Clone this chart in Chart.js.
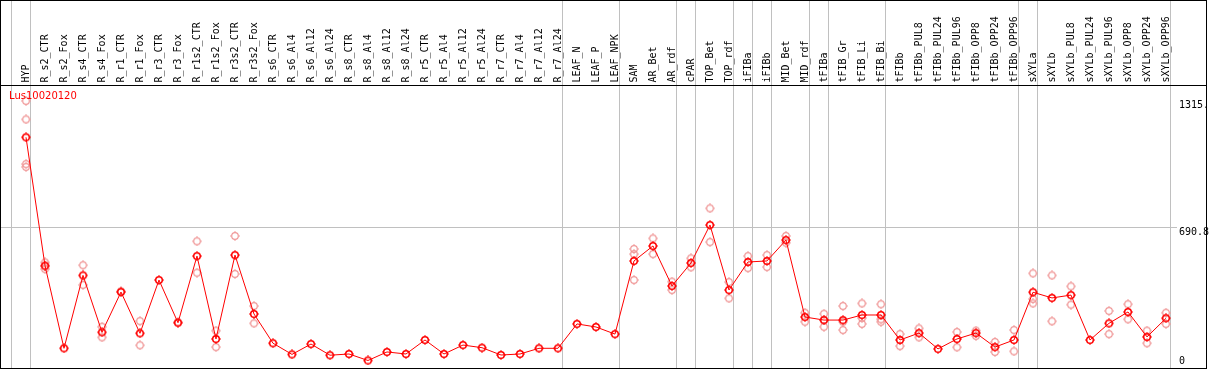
<!DOCTYPE html>
<html>
<head>
<meta charset="utf-8">
<script src="https://cdn.jsdelivr.net/npm/chart.js@4.4.0/dist/chart.umd.min.js"></script>
<style>
  html, body { margin: 0; padding: 0; background: #fff; }
  canvas { display: block; }
</style>
</head>
<body>
<canvas id="grafico" width="1209" height="370"></canvas>
<script>
// Muestras (eje x)
const categorias = ['HYP', 'R_s2_CTR', 'R_s2_Fox', 'R_s4_CTR', 'R_s4_Fox', 'R_r1_CTR', 'R_r1_Fox', 'R_r3_CTR', 'R_r3_Fox',
    'R_r1s2_CTR', 'R_r1s2_Fox', 'R_r3s2_CTR', 'R_r3s2_Fox', 'R_s6_CTR', 'R_s6_Al4', 'R_s6_Al12', 'R_s6_Al24',
    'R_s8_CTR', 'R_s8_Al4', 'R_s8_Al12', 'R_s8_Al24', 'R_r5_CTR', 'R_r5_Al4', 'R_r5_Al12', 'R_r5_Al24',
    'R_r7_CTR', 'R_r7_Al4', 'R_r7_Al12', 'R_r7_Al24', 'LEAF_N', 'LEAF_P', 'LEAF_NPK', 'SAM', 'AR_Bet', 'AR_rdf',
    'cPAR', 'TOP_Bet', 'TOP_rdf', 'iFIBa', 'iFIBb', 'MID_Bet', 'MID_rdf', 'tFIBa', 'tFIB_Gr', 'tFIB_Li', 'tFIB_Bi',
    'tFIBb', 'tFIBb_PUL8', 'tFIBb_PUL24', 'tFIBb_PUL96', 'tFIBb_OPP8', 'tFIBb_OPP24', 'tFIBb_OPP96',
    'sXYLa', 'sXYLb', 'sXYLb_PUL8', 'sXYLb_PUL24', 'sXYLb_PUL96', 'sXYLb_OPP8', 'sXYLb_OPP24', 'sXYLb_OPP96'];

// Valor medio por muestra
const medias = [1136, 504, 97, 456, 176, 374, 171, 433, 223, 551, 143, 556, 266, 122, 67, 118, 63, 69, 37, 79,
    69, 138, 69, 113, 100, 64, 69, 97, 97, 217, 202, 167, 527, 601, 404, 517, 704, 384, 522, 527, 630, 251,
    236, 236, 261, 261, 138, 172, 94, 143, 172, 103, 138, 373, 345, 359, 138, 220, 276, 153, 245];

// Réplicas por muestra
const replicas = [
    [1315, 1224, 1004, 990], [520, 500, 487], [], [506, 409], [203, 151], [378], [231, 112], [], [225],
    [624, 469], [184, 103], [650, 463], [305, 220], [], [], [], [], [], [], [], [], [], [], [], [], [], [], [], [],
    [], [], [], [586, 561, 433], [638, 561], [425, 384], [540, 496], [786, 620], [423, 343], [551, 492],
    [556, 497], [650, 617], [272, 228], [267, 236, 203], [305, 228, 187], [318, 246, 217], [314, 240, 228],
    [167, 108], [195, 151], [], [177, 102], [184, 158], [128, 79], [187, 82], [466, 340, 318], [456, 230],
    [402, 312], [], [281, 167], [314, 240], [184, 122], [272, 217]];

// Marcas del eje y
const ticksY = [0, 690.8, 1315];
const etiquetasY = ['0', '690.8', '1315.'];
const lineasY = [690.8];

// Separadores de grupos (después de estos índices)
const separadores = [-1, 0, 28, 31, 34, 35, 37, 38, 39, 41, 42, 45, 52, 53, 60];

const titulo = 'Lus10020120';

// Marcador: círculo con pequeñas marcas
function crearMarcador(color, grosor) {
    const c = document.createElement('canvas');
    c.width = 10;
    c.height = 10;
    const g = c.getContext('2d');
    g.strokeStyle = color;
    g.fillStyle = color;
    g.lineWidth = grosor;
    g.beginPath();
    g.arc(5, 5, 3.3, 0, Math.PI * 2);
    g.stroke();
    g.fillRect(4.5, 0, 1, 1);
    g.fillRect(4.5, 9, 1, 1);
    g.fillRect(0, 4.5, 1, 1);
    g.fillRect(9, 4.5, 1, 1);
    return c;
}

const marcaMedia = crearMarcador('#ff0000', 1.5);
const marcaReplica = crearMarcador('#f09898', 1.2);

const puntosMedia = medias.map((v, i) => ({ x: i, y: v }));
const puntosReplica = [];
replicas.forEach((lista, i) => lista.forEach(v => puntosReplica.push({ x: i, y: v })));

const fondoYMarco = {
    id: 'fondoYMarco',
    beforeDraw(chart) {
        const ctx = chart.ctx;
        ctx.save();
        ctx.fillStyle = '#fff';
        ctx.fillRect(0, 0, chart.width, chart.height);
        ctx.restore();
    },
    beforeDatasetsDraw(chart) {
        const ctx = chart.ctx;
        const x = chart.scales.x;
        const y = chart.scales.y;
        ctx.save();
        ctx.strokeStyle = '#c0c0c0';
        ctx.lineWidth = 1;
        separadores.forEach(b => {
            const px = Math.floor(x.getPixelForValue(b + 0.25)) + 0.5;
            ctx.beginPath();
            ctx.moveTo(px, 0);
            ctx.lineTo(px, 369);
            ctx.stroke();
        });
        lineasY.forEach(v => {
            const py = Math.floor(y.getPixelForValue(v)) + 0.5;
            ctx.beginPath();
            ctx.moveTo(1, py);
            ctx.lineTo(1177, py);
            ctx.stroke();
        });
        // etiquetas de las muestras, verticales
        ctx.fillStyle = '#000';
        ctx.font = '10px "DejaVu Sans Mono"';
        ctx.textAlign = 'left';
        ctx.textBaseline = 'middle';
        categorias.forEach((c, i) => {
            ctx.save();
            ctx.translate(x.getPixelForValue(i), 82.5);
            ctx.rotate(-Math.PI / 2);
            ctx.fillText(c, 0, 0);
            ctx.restore();
        });
        ctx.restore();
    },
    afterDraw(chart) {
        const ctx = chart.ctx;
        const y = chart.scales.y;
        ctx.save();
        // marco negro
        ctx.fillStyle = '#000';
        ctx.fillRect(0, 0, 1207, 1);
        ctx.fillRect(0, 85, 1207, 1);
        ctx.fillRect(0, 368, 1207, 1);
        ctx.fillRect(0, 0, 1, 369);
        ctx.fillRect(1206, 0, 1, 369);
        // etiquetas del eje y
        ctx.font = '10px "DejaVu Sans Mono"';
        ctx.textBaseline = 'top';
        ctx.textAlign = 'left';
        ticksY.forEach((v, i) => {
            const py = Math.min(y.getPixelForValue(v) - 0.5, 356);
            ctx.fillText(etiquetasY[i], 1179, py);
        });
        // título
        ctx.fillStyle = '#ff0000';
        ctx.font = '10px "DejaVu Sans"';
        ctx.fillText(titulo, 9, 91);
        ctx.restore();
    }
};

new Chart(document.getElementById('grafico'), {
    type: 'line',
    data: {
        datasets: [{
            label: titulo,
            data: puntosMedia,
            borderColor: '#ff0000',
            borderWidth: 1,
            pointStyle: marcaMedia,
            pointRadius: 5,
            tension: 0,
            fill: false,
            clip: false
        }, {
            label: 'replicas',
            data: puntosReplica,
            showLine: false,
            pointStyle: marcaReplica,
            pointRadius: 5,
            clip: false
        }]
    },
    options: {
        responsive: false,
        animation: false,
        devicePixelRatio: 1,
        layout: { autoPadding: false, padding: { left: 1, right: 2, top: 0, bottom: 2 } },
        plugins: {
            legend: { display: false },
            tooltip: { enabled: false }
        },
        scales: {
            x: {
                type: 'linear',
                position: 'top',
                min: -1.3158,
                max: 62.158,
                grid: { display: false, drawTicks: false },
                border: { display: false },
                ticks: { display: false },
                afterFit(scale) {
                    scale.height = 86;
                }
            },
            y: {
                display: false,
                min: 0,
                max: 1388.5
            }
        }
    },
    plugins: [fondoYMarco]
});
</script>
</body>
</html>
